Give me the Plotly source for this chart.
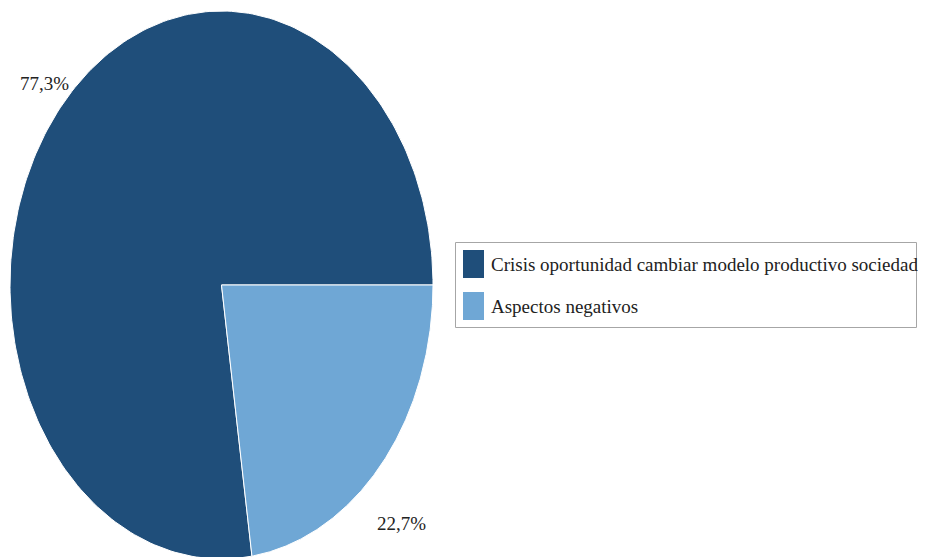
import numpy as np
import plotly.graph_objects as go

categories = ["Crisis oportunidad cambiar modelo productivo sociedad", "Aspectos negativos"]
values = [77.3, 22.7]
colors = ["#1F4E7A", "#6FA7D5"]
value_labels = ["77,3%", "22,7%"]

W, H = 926, 557
OFF = 8  # page body margin
cx, cy, rx, ry = 221.5, 285, 211.5, 274
start_deg = 90.0  # 3 o'clock, measured clockwise from top; slices run counter-clockwise

fig = go.Figure()
total = sum(values)
ang = start_deg
for cat, v, col in zip(categories, values, colors):
    span = v / total * 360.0
    th = np.radians(np.linspace(ang, ang - span, 240))
    xs = np.concatenate([[cx], cx + rx * np.sin(th), [cx]])
    ys = np.concatenate([[cy], cy - ry * np.cos(th), [cy]])
    fig.add_trace(go.Scatter(x=xs, y=ys, mode="lines", fill="toself", fillcolor=col,
                             line=dict(color="white", width=1), name=cat,
                             showlegend=False, hoverinfo="name"))
    ang -= span

# value labels
label_pos = [(44, 83), (401, 523)]
for (lx, ly), t in zip(label_pos, value_labels):
    fig.add_annotation(x=lx, y=ly, text=t, showarrow=False,
                       font=dict(family="Liberation Serif", size=19, color="#222222"))

# legend box
lx0, ly0, lx1, ly1 = 455.5, 242.5, 916.5, 327.5
fig.add_shape(type="rect", x0=lx0, y0=ly0, x1=lx1, y1=ly1,
              line=dict(color="#A6A6A6", width=1), fillcolor="white", layer="below")
for i, (cat, col) in enumerate(zip(categories, colors)):
    yc = 264 + i * 42
    fig.add_shape(type="rect", x0=463, x1=484, y0=yc - 14, y1=yc + 14,
                  line=dict(width=0), fillcolor=col)
    fig.add_annotation(x=489, y=yc, text=cat, showarrow=False, xanchor="left",
                       font=dict(family="Liberation Serif", size=19, color="#222222"))

fig.update_layout(
    width=W - 2 * OFF, height=H - OFF, margin=dict(l=0, r=0, t=0, b=0),
    paper_bgcolor="white", plot_bgcolor="white",
    xaxis=dict(range=[OFF, W - OFF], visible=False, fixedrange=True),
    yaxis=dict(range=[H, OFF], visible=False, fixedrange=True),
    showlegend=False,
)
fig.write_html("out.html")
